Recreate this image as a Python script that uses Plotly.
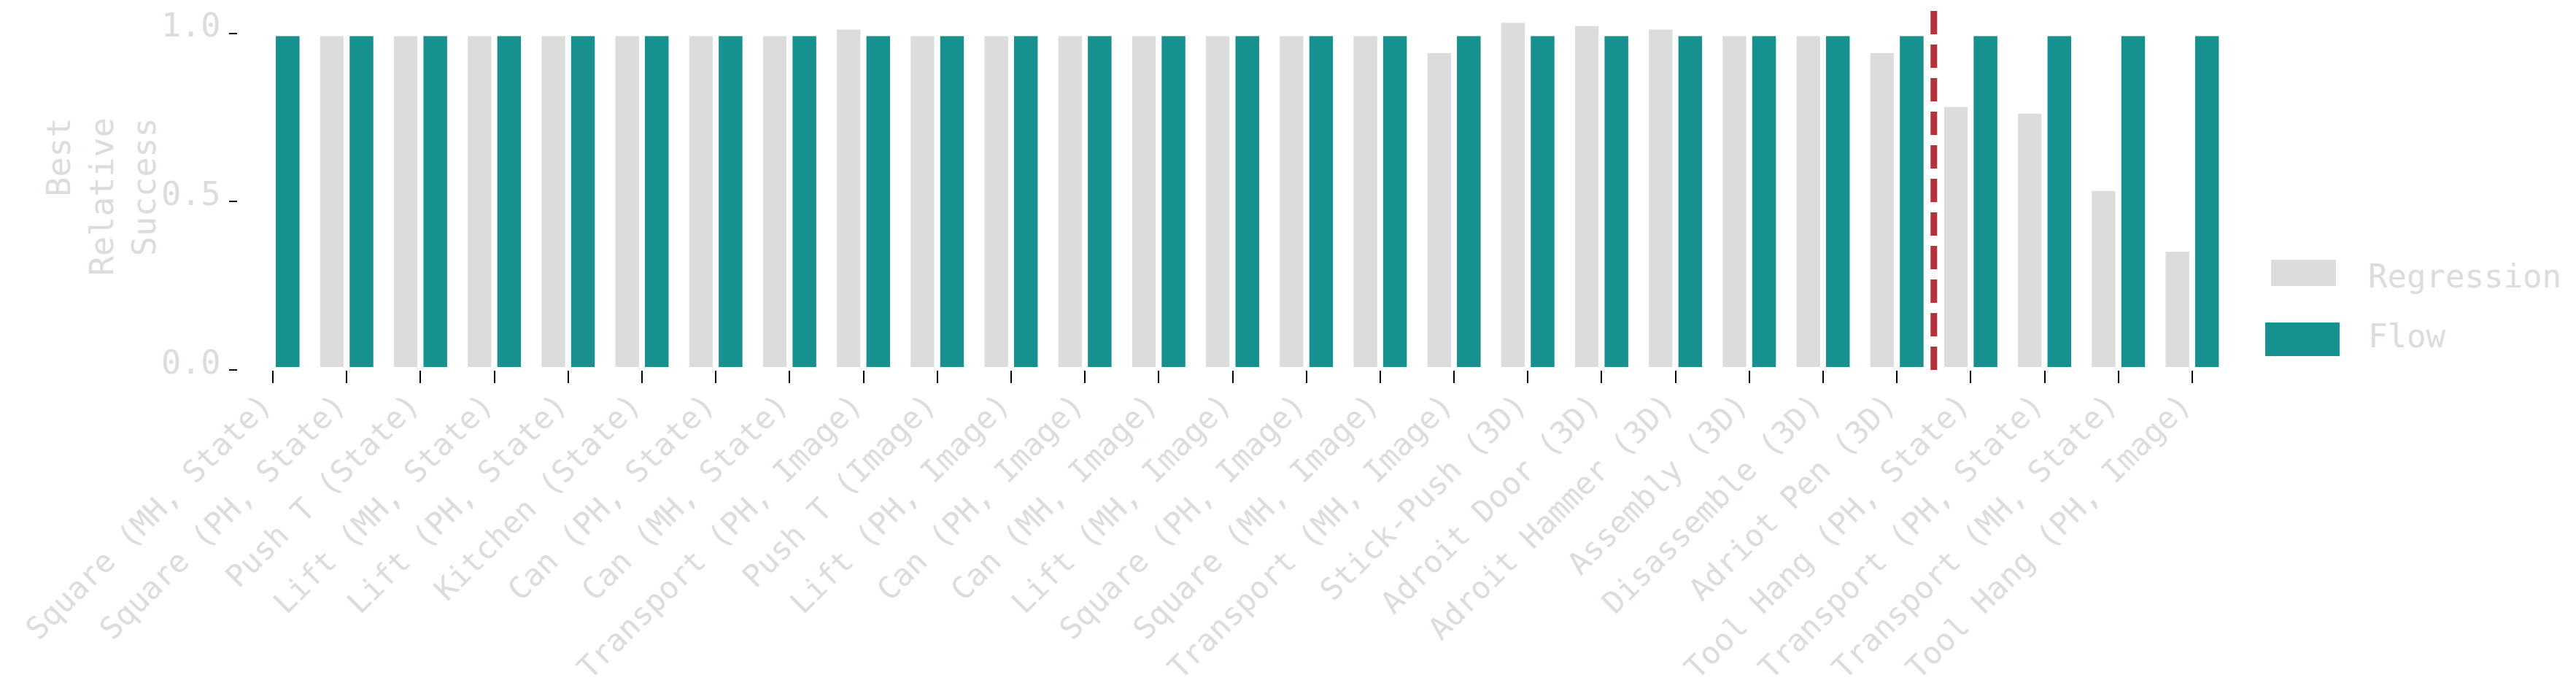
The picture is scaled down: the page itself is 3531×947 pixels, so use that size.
import plotly.graph_objects as go

# tasks along the x axis
tasks = [
    "Square (MH, State)", "Square (PH, State)", "Push T (State)",
    "Lift (MH, State)", "Lift (PH, State)", "Kitchen (State)",
    "Can (PH, State)", "Can (MH, State)", "Transport (PH, Image)",
    "Push T (Image)", "Lift (PH, Image)", "Can (PH, Image)",
    "Can (MH, Image)", "Lift (MH, Image)", "Square (PH, Image)",
    "Square (MH, Image)", "Transport (MH, Image)", "Stick-Push (3D)",
    "Adroit Door (3D)", "Adroit Hammer (3D)", "Assembly (3D)",
    "Disassemble (3D)", "Adriot Pen (3D)", "Tool Hang (PH, State)",
    "Transport (PH, State)", "Transport (MH, State)", "Tool Hang (PH, Image)",
]

# best relative success per task
regression = [
    None, 1.0, 1.0, 1.0, 1.0, 1.0, 1.0, 1.0, 1.02,
    1.0, 1.0, 1.0, 1.0, 1.0, 1.0, 1.0, 0.95, 1.04,
    1.03, 1.02, 1.0, 1.0, 0.95, 0.79, 0.77, 0.54, 0.36,
]
flow = [1.0] * 27

# split between the easy and hard tasks
split_at = 22.5

y_ticks = [0.0, 0.5, 1.0]
y_tick_text = ["0.0", "0.5", "1.0"]

GRAY = "#DCDCDC"
TEAL = "#17918F"
RED = "#B5323A"
FONT = "DejaVu Sans Mono"

# the page body adds an 8px margin, so the figure is a bit smaller than the window
OFF = 8
W, H = 3531 - 2 * OFF, 947 - 2 * OFF
L, R, T, B = 318, 470, 0, 432
plot_w = W - L - R
plot_h = H - T - B


def px(x):
    # window pixel -> paper x
    return (x - OFF - L) / plot_w


def py(y):
    # window pixel -> paper y
    return (T + plot_h - (y - OFF)) / plot_h


fig = go.Figure()
fig.add_trace(go.Bar(x=tasks, y=regression, name="Regression",
                     marker=dict(color=GRAY, line=dict(color="white", width=8), cornerradius=4),
                     showlegend=False))
fig.add_trace(go.Bar(x=tasks, y=flow, name="Flow",
                     marker=dict(color=TEAL, line=dict(color="white", width=8), cornerradius=4),
                     showlegend=False))

# dashed separator
fig.add_shape(type="line", xref="x", yref="paper", x0=split_at, x1=split_at, y0=0, y1=1.02,
              line=dict(color=RED, width=9, dash="32px,14px"))

# y tick labels sit a little above their ticks in the original
for val, txt in zip(y_ticks, y_tick_text):
    fig.add_annotation(text=txt, xref="paper", yref="y", x=px(304), y=val,
                       xanchor="right", yanchor="middle", yshift=11, showarrow=False,
                       font=dict(family=FONT, size=45, color=GRAY))

# y title
fig.add_annotation(text="Best<br>Relative<br>Success", xref="paper", yref="paper",
                   x=px(139), y=py(270), xanchor="center", yanchor="middle",
                   textangle=-90, align="right", showarrow=False,
                   font=dict(family=FONT, size=45, color=GRAY))

# legend drawn by hand so the swatches keep their size
fig.add_shape(type="rect", xref="paper", yref="paper",
              x0=px(3113), x1=px(3202), y0=py(392), y1=py(356),
              fillcolor=GRAY, line=dict(width=0))
fig.add_shape(type="rect", xref="paper", yref="paper",
              x0=px(3105), x1=px(3207), y0=py(488), y1=py(442),
              fillcolor=TEAL, line=dict(width=0))
for label, ypos in [("Regression", 378), ("Flow", 460)]:
    fig.add_annotation(text=label, xref="paper", yref="paper",
                       x=px(3244), y=py(ypos), xanchor="left", yanchor="middle",
                       showarrow=False, font=dict(family=FONT, size=44, color=GRAY))

fig.update_layout(
    width=W, height=H,
    margin=dict(l=L, r=R, t=T, b=B, autoexpand=False),
    plot_bgcolor="white", paper_bgcolor="white",
    barmode="group", bargap=0.2, bargroupgap=0.0,
    font=dict(family=FONT, size=45, color=GRAY),
    showlegend=False,
)
fig.update_xaxes(
    range=[-0.475, 26.475], tickangle=-45, automargin=False,
    ticks="outside", ticklen=17, tickwidth=2, tickcolor="black",
    ticklabelstandoff=-12, ticklabelshift=-14,
    showline=False, showgrid=False, zeroline=False,
    tickfont=dict(family=FONT, size=42, color=GRAY),
)
fig.update_yaxes(
    range=[0, 1.0815], tickvals=y_ticks, showticklabels=False, automargin=False,
    ticks="outside", ticklen=11, tickwidth=2, tickcolor="black",
    showline=False, showgrid=False, zeroline=False,
)

fig.write_html("out.html")
